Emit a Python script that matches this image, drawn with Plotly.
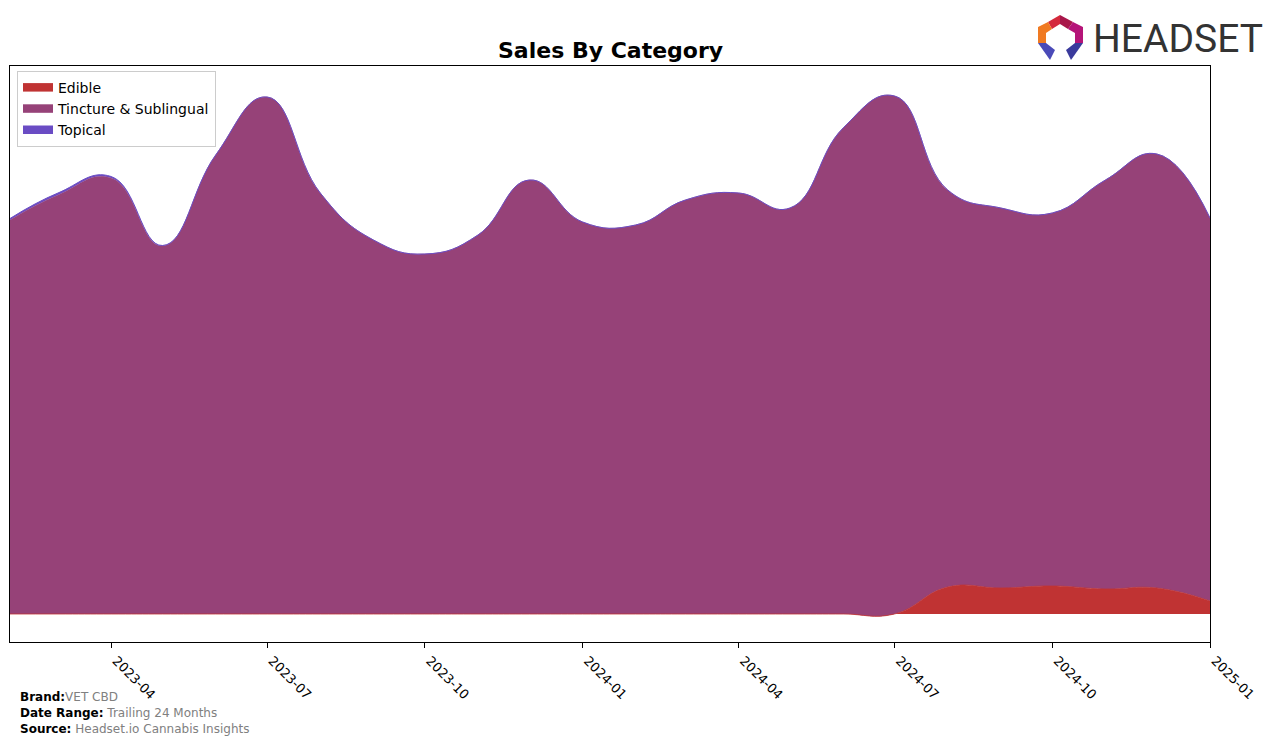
import plotly.graph_objects as go

# ---- data (monthly) ----
months = [
    "2023-02-01", "2023-03-01", "2023-04-01", "2023-05-01", "2023-06-01", "2023-07-01",
    "2023-08-01", "2023-09-01", "2023-10-01", "2023-11-01", "2023-12-01", "2024-01-01",
    "2024-02-01", "2024-03-01", "2024-04-01", "2024-05-01", "2024-06-01", "2024-07-01",
    "2024-08-01", "2024-09-01", "2024-10-01", "2024-11-01", "2024-12-01", "2025-01-01",
]
edible = [0, 0, 0, 0, 0, 0, 0, 0, 0, 0, 0, 0,
          0, 0, 0, 0, 0, 0, 27, 26, 28, 25, 26, 13]
tincture = [394, 419, 436, 368, 459, 517, 421, 374, 360, 379, 434, 392,
            389, 414, 421, 406, 486, 518, 397, 380, 373, 409, 434, 383]
topical = [1.5, 2, 1.5, 0.5, 0, 0, 0, 0, 0, 0, 0, 0,
           0, 0, 0, 0, 0, 0, 0, 0, 0, 0, 0, 0]

tick_vals = ["2023-04-01", "2023-07-01", "2023-10-01", "2024-01-01",
             "2024-04-01", "2024-07-01", "2024-10-01", "2025-01-01"]
tick_text = ["2023-04", "2023-07", "2023-10", "2024-01",
             "2024-04", "2024-07", "2024-10", "2025-01"]

C_EDIBLE = "#c03333"
C_TINCT = "#964278"
C_TOPIC = "#6a4cc4"

# plot area in pixels
L, R, T, B = 10, 1210, 66, 642
W, H = 1276, 745


def px(x):
    return (x - L) / (R - L)


def py(y):
    return (B - y) / (B - T)


SM = 1.3

fig = go.Figure()
fig.add_trace(go.Scatter(
    x=months, y=edible, name="Edible", stackgroup="one", mode="lines",
    line=dict(color=C_EDIBLE, width=0.8, shape="spline", smoothing=SM),
    fillcolor=C_EDIBLE, hoverinfo="skip"))
fig.add_trace(go.Scatter(
    x=months, y=tincture, name="Tincture & Sublingual", stackgroup="one", mode="lines",
    line=dict(color=C_TINCT, width=0.5, shape="spline", smoothing=SM),
    fillcolor=C_TINCT, hoverinfo="skip"))
fig.add_trace(go.Scatter(
    x=months, y=topical, name="Topical", stackgroup="one", mode="lines",
    line=dict(color=C_TOPIC, width=1, shape="spline", smoothing=SM),
    fillcolor=C_TOPIC, hoverinfo="skip"))

annotations = [
    dict(text="<b>Sales By Category</b>", x=0.5, y=py(51), xref="paper", yref="paper",
         xanchor="center", yanchor="middle", showarrow=False,
         font=dict(size=22, color="black", family="DejaVu Sans")),
    dict(text="<b>Brand:</b><span style='color:#808080'>VET CBD</span>",
         x=px(18), y=py(697), xref="paper", yref="paper", xanchor="left", yanchor="middle",
         showarrow=False, font=dict(size=12, color="black", family="DejaVu Sans")),
    dict(text="<b>Date Range:</b> <span style='color:#808080'>Trailing 24 Months</span>",
         x=px(18), y=py(713), xref="paper", yref="paper", xanchor="left", yanchor="middle",
         showarrow=False, font=dict(size=12, color="black", family="DejaVu Sans")),
    dict(text="<b>Source:</b> <span style='color:#808080'>Headset.io Cannabis Insights</span>",
         x=px(18), y=py(729), xref="paper", yref="paper", xanchor="left", yanchor="middle",
         showarrow=False, font=dict(size=12, color="black", family="DejaVu Sans")),
    dict(text="HEADSET", x=px(1091), y=py(39), xref="paper", yref="paper",
         xanchor="left", yanchor="middle", showarrow=False,
         font=dict(size=39, color="#333333", family="Roboto, Liberation Sans")),
]


def poly(points, color):
    d = "M " + " L ".join(f"{px(x):.5f},{py(y):.5f}" for x, y in points) + " Z"
    return dict(type="path", xref="paper", yref="paper", path=d,
                fillcolor=color, line=dict(width=0), layer="above")


shapes = [
    poly([(1048, 22), (1060, 15), (1060, 24), (1052, 29)], "#d42a3c"),
    poly([(1060, 15), (1073, 22), (1068, 29), (1060, 24)], "#a8174a"),
    poly([(1073, 22), (1083, 27), (1083, 43), (1075, 43), (1075, 33), (1068, 29)], "#b51478"),
    poly([(1048, 22), (1038, 27), (1038, 43), (1046, 43), (1046, 33), (1052, 29)], "#f07a22"),
    poly([(1038, 43), (1046, 43), (1055, 50), (1050, 60)], "#4a4ab8"),
    poly([(1083, 43), (1075, 43), (1066, 50), (1071, 60)], "#3a3a9c"),
]

fig.update_layout(
    width=W, height=H,
    margin=dict(l=L, r=W - R, t=T, b=H - B, pad=0),
    paper_bgcolor="white", plot_bgcolor="white",
    showlegend=True,
    legend=dict(x=px(17), y=py(71), xanchor="left", yanchor="top",
                bgcolor="rgba(255,255,255,0.9)", bordercolor="#cccccc", borderwidth=1,
                font=dict(size=14, color="black", family="DejaVu Sans"),
                traceorder="normal", itemsizing="constant"),
    xaxis=dict(range=["2023-02-01", "2025-01-01"], tickvals=tick_vals, ticktext=tick_text,
               tickangle=45, ticks="outside", ticklen=5, tickwidth=1, tickcolor="black",
               ticklabelshift=5,
               showgrid=False, zeroline=False, showline=True, linecolor="black", linewidth=1,
               mirror=True, tickfont=dict(size=13, color="black", family="DejaVu Sans")),
    yaxis=dict(range=[-28, 548], showticklabels=False, ticks="", showgrid=False,
               zeroline=False, showline=True, linecolor="black", linewidth=1, mirror=True),
    annotations=annotations,
    shapes=shapes,
    hovermode=False,
)

fig.write_html("out.html")
